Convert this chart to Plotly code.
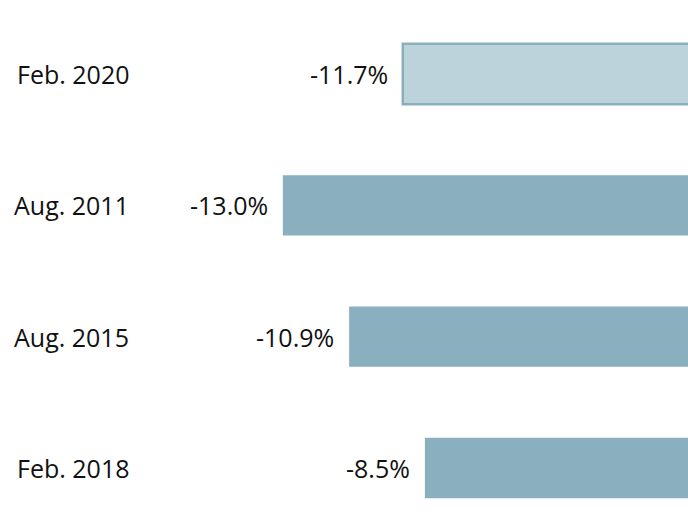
import plotly.graph_objects as go

categories = ["Feb. 2020", "Aug. 2011", "Aug. 2015", "Feb. 2018"]
bar_values = [-9.2, -13.0, -10.9, -8.5]
value_labels = ["-11.7%", "-13.0%", "-10.9%", "-8.5%"]
fill_colors = ["#bcd3dc", "#8aafbf", "#8aafbf", "#8aafbf"]
line_widths = [2.5, 0, 0, 0]

FONT = "Open Sans"
FSIZE = 25

fig = go.Figure()
fig.add_trace(go.Bar(
    x=bar_values,
    y=categories,
    orientation="h",
    width=0.46,
    marker=dict(color=fill_colors, line=dict(color="#8aaebe", width=line_widths)),
    hoverinfo="skip",
))

for cat, v, lab in zip(categories, bar_values, value_labels):
    fig.add_annotation(x=v, y=cat, text=lab, showarrow=False, xanchor="right",
                       xshift=-13, font=dict(family=FONT, size=FSIZE, color="#111111"))
    fig.add_annotation(x=131 / 688, xref="x domain", y=cat, text=cat, showarrow=False,
                       xanchor="right", font=dict(family=FONT, size=FSIZE, color="#111111"))

fig.update_layout(
    width=688, height=529,
    margin=dict(l=0, r=0, t=0, b=0),
    plot_bgcolor="white", paper_bgcolor="white",
    showlegend=False,
    xaxis=dict(range=[-21.96, -0.165], visible=False),
    yaxis=dict(categoryorder="array", categoryarray=categories,
               range=[3.4645, -0.5635], visible=False),
)
fig.write_html("out.html", config={"displayModeBar": False},
               post_script="document.body.style.margin='0';document.body.style.overflow='hidden';")
